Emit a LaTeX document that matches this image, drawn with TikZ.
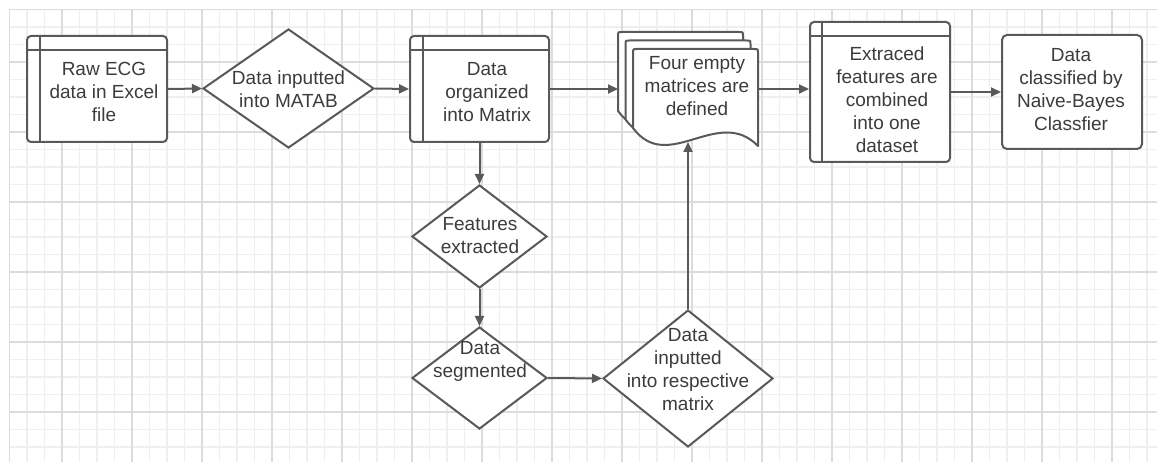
\documentclass[tikz,border=0pt]{standalone}
\usepackage{fontspec}
\setmainfont{Liberation Sans}
\usetikzlibrary{shapes.geometric,arrows.meta,calc}
\definecolor{linec}{HTML}{595959}
\definecolor{textc}{HTML}{3C3C3C}
\definecolor{gridthin}{HTML}{EFEFEF}
\definecolor{gridmajor}{HTML}{DCDCDC}
\tikzset{
  shapeline/.style={draw=linec, line width=2pt, fill=white},
  storebox/.style={shapeline, rectangle, rounded corners=4pt, inner sep=0pt},
  procbox/.style={shapeline, rectangle, rounded corners=5pt, inner sep=0pt},
  dia/.style={shapeline, diamond, inner sep=0pt},
  txt/.style={text=textc, align=center, font=\fontsize{19}{23}\selectfont, inner sep=0pt},
  conn/.style={draw=linec, line width=2pt, -{Triangle[length=10pt,width=9pt]}},
  innerline/.style={draw=linec, line width=2pt},
}
\begin{document}
\begin{tikzpicture}[x=1pt,y=-1pt]
\useasboundingbox (0,0) rectangle (1157,462);
\fill[white] (0,0) rectangle (1157,462);
% grid
\foreach \i in {0,...,65} {\draw[gridthin, line width=1.2pt] ({9.5+\i*17.5},9.5) -- ({9.5+\i*17.5},462);}
\foreach \i in {0,...,25} {\draw[gridthin, line width=1.2pt] (9.5,{9.5+\i*17.5}) -- (1157,{9.5+\i*17.5});}
\foreach \i in {0,...,15} {\draw[gridmajor, line width=1.2pt] ({62+\i*70},9.5) -- ({62+\i*70},462);}
\foreach \i in {0,...,5} {\draw[gridmajor, line width=1.2pt] (9.5,{62+\i*70}) -- (1157,{62+\i*70});}
\draw[gridmajor, line width=1.2pt] (9.5,9.5) -- (9.5,462);
\draw[gridmajor, line width=1.2pt] (9.5,9.5) -- (1157,9.5);

% Raw ECG box
\node[storebox, minimum width=140pt, minimum height=106pt] (raw) at (97,89) {};
\draw[innerline] ($(raw.north west)+(14,0)$) -- ($(raw.south west)+(14,0)$);
\draw[innerline] ($(raw.north west)+(0,15)$) -- ($(raw.north east)+(0,15)$);
\node[txt] (rawt) at (104,92) {Raw ECG\\data in Excel\\file};

% diamond 1
\node[dia, minimum width=171pt, minimum height=119pt] (d1) at (288.5,88.5) {};
\node[txt] (d1t) at (288.5,89) {Data inputted\\into MATAB};

% Data organized box
\node[storebox, minimum width=139pt, minimum height=106pt] (org) at (479.5,89) {};
\draw[innerline] ($(org.north west)+(14,0)$) -- ($(org.south west)+(14,0)$);
\draw[innerline] ($(org.north west)+(0,15)$) -- ($(org.north east)+(0,15)$);
\node[txt] (orgt) at (487,92) {Data\\organized\\into Matrix};

% multi-document
\foreach \dx/\dy in {-15/-17, -7.5/-8.5, 0/0} {
  \begin{scope}[shift={(\dx,\dy)}]
  \draw[shapeline, line join=round] (633,128) -- (633,53) .. controls (633,49) .. (637,49) -- (754,49) .. controls (758,49) .. (758,53) -- (758,146)
     .. controls (718,105) and (668,175) .. (633,128) -- cycle;
  \end{scope}
}
\coordinate (docin) at (618,89);
\coordinate (docout) at (758,89);
\coordinate (docbot) at (688,142);
\node[txt] (doct) at (697,86) {Four empty\\matrices are\\defined};

% Extraced box
\node[storebox, minimum width=140pt, minimum height=140pt] (ext) at (880,92) {};
\draw[innerline] ($(ext.north west)+(13,0)$) -- ($(ext.south west)+(13,0)$);
\draw[innerline] ($(ext.north west)+(0,15)$) -- ($(ext.north east)+(0,15)$);
\node[txt] (extt) at (887,100) {Extraced\\features are\\combined\\into one\\dataset};

% classified
\node[procbox, minimum width=140pt, minimum height=114pt] (cls) at (1072,92) {};
\node[txt] (clst) at (1071,89.5) {Data\\classified by\\Naive-Bayes\\Classfier};

% lower diamonds
\node[dia, minimum width=135pt, minimum height=103pt] (d2) at (479.5,236.5) {};
\node[txt] (d2t) at (480,236) {Features\\extracted};
\node[dia, minimum width=135pt, minimum height=102pt] (d3) at (479.5,378) {};
\node[txt] (d3t) at (480,361.5) {Data\\segmented};
\node[dia, minimum width=170pt, minimum height=137pt] (d4) at (688,378.5) {};
\node[txt] (d4t) at (688,370) {Data\\inputted\\into respective\\matrix};

% connectors
\draw[conn] (raw.east) -- (d1.west);
\draw[conn] (d1.east) -- (org.west);
\draw[conn] (org.east) -- (docin);
\draw[conn] (docout) -- (docout -| ext.west);
\draw[conn] (ext.east) -- (cls.west);
\draw[conn] (org.south) -- (d2.north);
\draw[conn] (d2.south) -- (d3.north);
\draw[conn] (d3.east) -- (d4.west);
\draw[conn] (d4.north) -- (docbot);
\end{tikzpicture}
\end{document}
